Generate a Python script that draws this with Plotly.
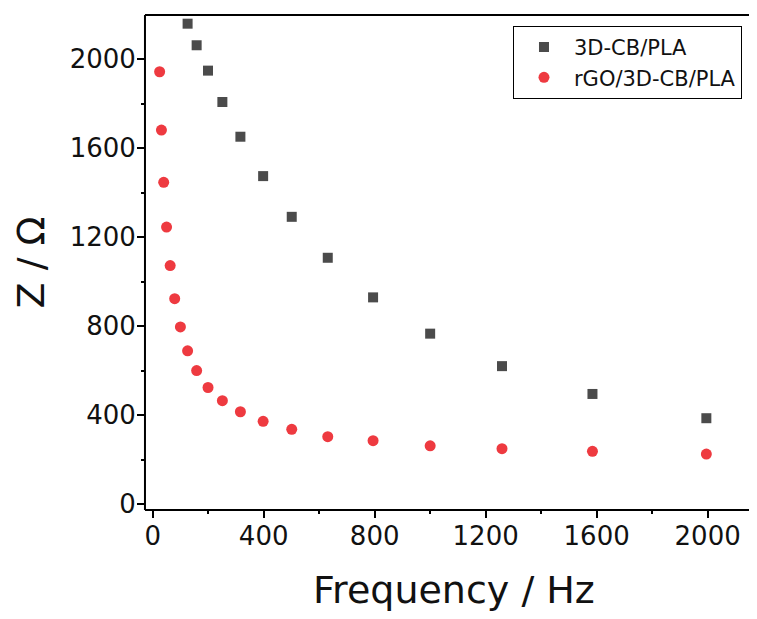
import plotly.graph_objects as go

# Data
freq_cb = [125.9, 158.5, 199.5, 251.2, 316.2, 398.1, 501.2, 631.0, 794.3, 1000.0, 1258.9, 1584.9, 1995.3]
z_cb = [2160, 2063, 1949, 1808, 1652, 1475, 1292, 1108, 930, 767, 621, 496, 387]

freq_rgo = [25.1, 31.6, 39.8, 50.1, 63.1, 79.4, 100.0, 125.9, 158.5, 199.5, 251.2, 316.2,
            398.1, 501.2, 631.0, 794.3, 1000.0, 1258.9, 1584.9, 1995.3]
z_rgo = [1944, 1682, 1447, 1246, 1073, 924, 797, 690, 601, 525, 466, 416,
         373, 337, 304, 286, 263, 250, 238, 226]

series_names = ["3D-CB/PLA", "rGO/3D-CB/PLA"]
x_title = "Frequency / Hz"
y_title = "Z / Ω"

FONT = "DejaVu Sans"

fig = go.Figure()
fig.add_trace(go.Scatter(
    x=freq_cb, y=z_cb, mode="markers", name=series_names[0],
    marker=dict(symbol="square", size=10, color="#4b4b4b", line=dict(width=0)),
    cliponaxis=True,
))
fig.add_trace(go.Scatter(
    x=freq_rgo, y=z_rgo, mode="markers", name=series_names[1],
    marker=dict(symbol="circle", size=11, color="#ee3a40", line=dict(width=0)),
    cliponaxis=True,
))

axis_common = dict(
    showgrid=False, zeroline=False, showline=False,
    ticks="outside", ticklen=8, tickwidth=2, tickcolor="black", automargin=False,
    tickfont=dict(family=FONT, size=26, color="#111111"), mirror=False,
)

fig.update_xaxes(
    range=[-24, 2149], dtick=400, tick0=0, ticklabelstandoff=-4,
    minor=dict(dtick=200, ticks="outside", ticklen=4, tickwidth=2, tickcolor="black",
               showgrid=False),
    **axis_common,
)
fig.update_yaxes(
    range=[-21, 2199], dtick=400, tick0=0, ticklabelstandoff=-4,
    minor=dict(dtick=200, ticks="outside", ticklen=4, tickwidth=2, tickcolor="black",
               showgrid=False),
    **axis_common,
)

# frame lines: left, bottom and top (no right frame line in the reference)
frame = dict(type="line", xref="paper", yref="paper",
             line=dict(color="black", width=2), layer="above")
fig.add_shape(x0=-0.0017, x1=1, y0=1, y1=1, **frame)
fig.add_shape(x0=-0.0017, x1=1, y0=-0.002, y1=-0.002, **frame)
fig.add_shape(x0=-0.0017, x1=-0.0017, y0=-0.002, y1=1, **frame)

fig.add_annotation(
    text=x_title, xref="paper", yref="paper", x=0.5116, y=-0.164,
    xanchor="center", yanchor="middle", showarrow=False,
    font=dict(family=FONT, size=38, color="#111111"),
)
fig.add_annotation(
    text=y_title, xref="paper", yref="paper", x=-0.19, y=0.5,
    xanchor="center", yanchor="middle", showarrow=False, textangle=-90,
    font=dict(family=FONT, size=38, color="#111111"),
)

fig.update_layout(
    width=741, height=603,
    margin=dict(l=138, r=0, t=7, b=102),
    paper_bgcolor="white", plot_bgcolor="white",
    showlegend=True,
    legend=dict(
        x=0.6086, y=0.978, xanchor="left", yanchor="top",
        bordercolor="black", borderwidth=1, bgcolor="white",
        font=dict(family=FONT, size=21, color="#111111"),
        itemwidth=50, tracegroupgap=0,
    ),
)

fig.write_html("out.html")
